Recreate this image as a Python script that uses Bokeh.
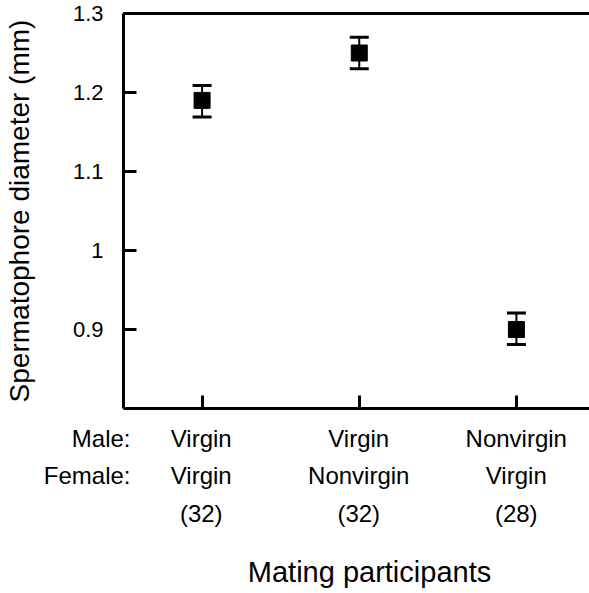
from bokeh.plotting import figure
from bokeh.models import (ColumnDataSource, Whisker, TeeHead, FixedTicker, LinearAxis, Range1d)
from bokeh.layouts import column
from bokeh.core.properties import value
from bokeh.embed import file_html
from bokeh.resources import INLINE

# ---- data ----
positions = [1, 2, 3]
male_status = ["Virgin", "Virgin", "Nonvirgin"]
female_status = ["Virgin", "Nonvirgin", "Virgin"]
sample_sizes = ["(32)", "(32)", "(28)"]
diameter = [1.19, 1.25, 0.90]
err_upper = [1.209, 1.270, 0.921]
err_lower = [1.169, 1.230, 0.881]
y_ticks = [0.9, 1.0, 1.1, 1.2, 1.3]
y_tick_labels = ["0.9", "1", "1.1", "1.2", "1.3"]
row_headers = ["Male:", "Female:"]

FONT = "Liberation Sans"
XR = (0.5, 3.465)
LEFT = 122
W = 589
TOP_H = 418

p = figure(width=W, height=TOP_H, output_backend="svg", toolbar_location=None,
           x_range=Range1d(*XR), y_range=Range1d(0.8, 1.3),
           min_border_left=LEFT, min_border_right=0, min_border_top=13,
           min_border_bottom=10, x_axis_location=None, y_axis_location=None)
p.grid.visible = False
p.outline_line_color = None
p.frame_align = False

# left axis
yax = LinearAxis(ticker=FixedTicker(ticks=y_ticks),
                 major_label_overrides={t: l for t, l in zip(y_ticks, y_tick_labels)},
                 axis_label="Spermatophore diameter (mm)")
yax.axis_line_width = 3
yax.major_tick_line_width = 3
yax.major_tick_in = 13
yax.major_tick_out = 0
yax.minor_tick_line_color = None
yax.major_label_text_font = FONT
yax.major_label_text_font_size = "22px"
yax.major_label_text_color = "black"
yax.major_label_standoff = 20
yax.axis_label_text_font = FONT
yax.axis_label_text_font_size = "28px"
yax.axis_label_text_font_style = "normal"
yax.axis_label_text_color = "black"
yax.axis_label_standoff = 35
p.add_layout(yax, "left")

# bottom axis
xax = LinearAxis(ticker=FixedTicker(ticks=positions))
xax.axis_line_width = 3
xax.major_tick_line_width = 3
xax.major_tick_in = 13
xax.major_tick_out = 0
xax.minor_tick_line_color = None
xax.major_label_text_color = None
xax.major_label_standoff = 0
p.add_layout(xax, "below")

# top line
tax = LinearAxis(ticker=FixedTicker(ticks=[]))
tax.axis_line_width = 3
tax.major_tick_line_color = None
tax.minor_tick_line_color = None
tax.major_label_text_color = None
tax.major_label_standoff = 0
p.add_layout(tax, "above")

src = ColumnDataSource(dict(x=positions, y=diameter, upper=err_upper, lower=err_lower))
wh = Whisker(base="x", upper="upper", lower="lower", source=src,
             line_width=2, line_color="black",
             upper_head=TeeHead(size=19, line_width=3, line_color="black"),
             lower_head=TeeHead(size=19, line_width=3, line_color="black"))
p.add_layout(wh)
p.scatter("x", "y", source=src, marker="square", size=16, fill_color="black",
          line_color="black")

# ---- label strip below the chart (same x scale, extended to the page's left edge) ----
ppu = (W - LEFT) / (XR[1] - XR[0])
x0 = XR[0] - LEFT / ppu
H2 = 593 - TOP_H
q = figure(width=W, height=H2, output_backend="svg", toolbar_location=None,
           x_range=Range1d(x0, XR[1]), y_range=Range1d(593, TOP_H),
           min_border_left=0, min_border_right=0, min_border_top=0, min_border_bottom=0,
           x_axis_location=None, y_axis_location=None)
q.grid.visible = False
q.outline_line_color = None
q.frame_align = False

row_y = [438, 475, 513]
for texts, yy in zip([male_status, female_status, sample_sizes], row_y):
    q.text(x=positions, y=[yy] * len(positions), text=texts, text_align="center",
           text_baseline="alphabetic", text_font=value(FONT), text_font_size="24px",
           text_color="black")

q.text(x=[XR[0] + 8 / ppu] * 2, y=row_y[:2], text=row_headers, text_align="right",
       text_baseline="alphabetic", text_font=value(FONT), text_font_size="24px",
       text_color="black")

q.text(x=[XR[0] + 247 / ppu], y=[571], text=["Mating participants"], text_align="center",
       text_baseline="alphabetic", text_font=value(FONT), text_font_size="29px",
       text_color="black")

layout = column(p, q, spacing=0)
open("out.html", "w").write(file_html(layout, INLINE))
